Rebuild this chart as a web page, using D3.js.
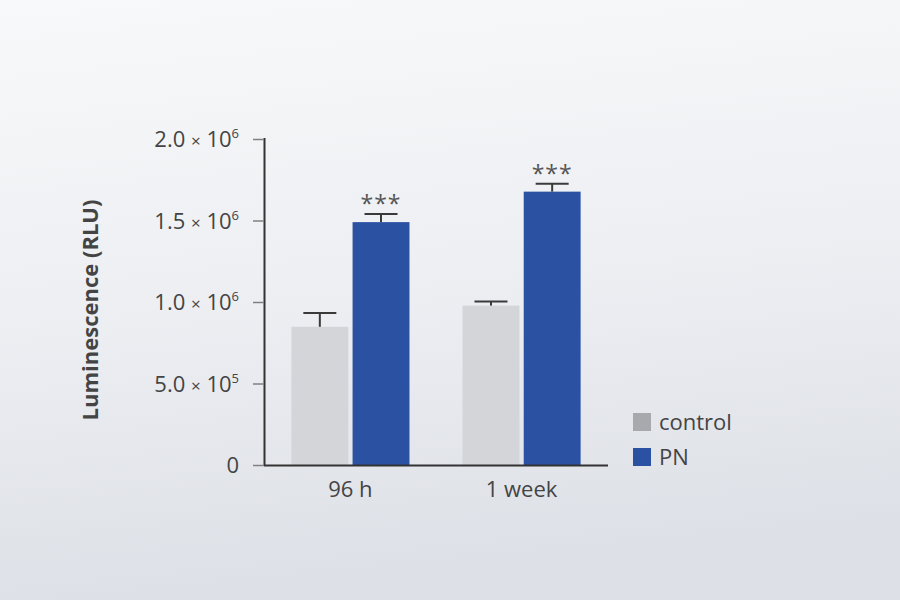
<!DOCTYPE html>
<html>
<head>
<meta charset="utf-8">
<script src="https://cdn.jsdelivr.net/npm/d3@7"></script>
<style>
  html, body { margin: 0; padding: 0; }
  body { width: 900px; height: 600px; overflow: hidden; }
  svg { display: block; font-family: "Open Sans", "Noto Sans", sans-serif; }
</style>
</head>
<body>
<svg id="chart" width="900" height="600"></svg>
<script>
// grouped bars with upward error bars, Luminescence
const groups = ["96 h", "1 week"];
const seriesNames = ["control", "PN"];
const control = [0.848e6, 0.978e6];
const controlErr = [0.085e6, 0.025e6];
const pn = [1.49e6, 1.677e6];
const pnErr = [0.05e6, 0.048e6];
const signif = ["***", "***"];
const yTicks = [0, 5e5, 1e6, 1.5e6, 2e6];
const tickMant = ["0", "5.0", "1.0", "1.5", "2.0"];
const tickExp = ["", "5", "6", "6", "6"];

const colors = { control: "#d3d5d9", PN: "#2b51a3" };
const legendColors = { control: "#a7a9ac", PN: "#2b51a3" };

const svg = d3.select("#chart");
const width = 900, height = 600;
const margin = { top: 139, right: 292, bottom: 135, left: 264 };

// background wash
const defs = svg.append("defs");
const bg = defs.append("linearGradient").attr("id", "bg")
  .attr("x1", 0).attr("y1", 0).attr("x2", 0.15).attr("y2", 1);
bg.append("stop").attr("offset", "0%").attr("stop-color", "#f8f9fa");
bg.append("stop").attr("offset", "55%").attr("stop-color", "#eceef2");
bg.append("stop").attr("offset", "100%").attr("stop-color", "#dde0e6");
svg.append("rect").attr("width", width).attr("height", height).attr("fill", "url(#bg)");

const rows = groups.map((g, i) => ([
  { g, key: "control", v: control[i], e: controlErr[i] },
  { g, key: "PN", v: pn[i], e: pnErr[i] }
]));

const x0 = d3.scaleBand().domain(groups)
  .range([margin.left, width - margin.right]).paddingInner(0.31).paddingOuter(0.16);
const x1 = d3.scaleBand().domain(seriesNames).range([0, x0.bandwidth()]).paddingInner(0.07);
const y = d3.scaleLinear().domain([0, 2e6]).range([height - margin.bottom, margin.top]);

// bars
const gBars = svg.append("g");
rows.forEach(r => {
  r.forEach(d => {
    const bx = x0(d.g) + x1(d.key);
    gBars.append("rect").attr("x", bx).attr("width", x1.bandwidth())
      .attr("y", y(d.v)).attr("height", y(0) - y(d.v)).attr("fill", colors[d.key]);
    const cx = bx + x1.bandwidth() / 2;
    gBars.append("line").attr("x1", cx).attr("x2", cx).attr("y1", y(d.v)).attr("y2", y(d.v + d.e))
      .attr("stroke", "#3a3a3a").attr("stroke-width", 2);
    gBars.append("line").attr("x1", cx - 16.5).attr("x2", cx + 16.5)
      .attr("y1", y(d.v + d.e)).attr("y2", y(d.v + d.e))
      .attr("stroke", "#3a3a3a").attr("stroke-width", 2);
  });
});

// significance stars over PN
groups.forEach((g, i) => {
  svg.append("text").attr("x", x0(g) + x1("PN") + x1.bandwidth() / 2)
    .attr("y", y(pn[i] + pnErr[i]) - 2).attr("text-anchor", "middle")
    .attr("font-size", 23).attr("fill", "#555").attr("letter-spacing", 1).text(signif[i]);
});

// y axis
const yAxis = svg.append("g").attr("transform", `translate(${margin.left},0)`)
  .call(d3.axisLeft(y).tickValues(yTicks).tickSize(11).tickPadding(14).tickSizeOuter(0).tickFormat(""));
yAxis.select(".domain").attr("stroke", "#333").attr("stroke-width", 2)
  .attr("d", `M0.5,${y(2e6) - 1}V${y(0) + 1}`);
yAxis.selectAll(".tick line").attr("stroke", "#808080").attr("stroke-width", 1.5);
yAxis.selectAll(".tick text").each(function (d, i) {
  const t = d3.select(this).attr("font-size", 22).attr("fill", "#444")
    .attr("font-family", "'Open Sans', sans-serif").attr("dy", "0.36em");
  if (!tickExp[i]) { t.text(tickMant[i]); return; }
  t.append("tspan").text(tickMant[i] + " ");
  t.append("tspan").attr("font-size", 17).text("×");
  t.append("tspan").text(" 10");
  t.append("tspan").attr("font-size", 13).attr("dy", -9).text(tickExp[i]);
});

// x axis
const xAxis = svg.append("g").attr("transform", `translate(0,${y(0)})`)
  .call(d3.axisBottom(x0).tickSize(0).tickPadding(16).tickSizeOuter(0));
xAxis.select(".domain").attr("stroke", "#333").attr("stroke-width", 2)
  .attr("d", `M${margin.left},0.5H${width - margin.right}`);
xAxis.selectAll(".tick text").attr("font-size", 22).attr("fill", "#444")
  .attr("font-family", "'Open Sans', sans-serif");

// y title
svg.append("text").attr("transform", `translate(98,${(y(0) + y(2e6)) / 2 + 8}) rotate(-90)`)
  .attr("text-anchor", "middle").attr("font-size", 22).attr("font-weight", 700)
  .attr("fill", "#444").text("Luminescence (RLU)");

// legend
const leg = svg.append("g").attr("transform", "translate(633,413)");
seriesNames.forEach((s, i) => {
  const row = leg.append("g").attr("transform", `translate(0,${i * 35})`);
  row.append("rect").attr("width", 18).attr("height", 18).attr("fill", legendColors[s]);
  row.append("text").attr("x", 26).attr("y", 17).attr("font-size", 22).attr("fill", "#444").text(s);
});
</script>
</body>
</html>
